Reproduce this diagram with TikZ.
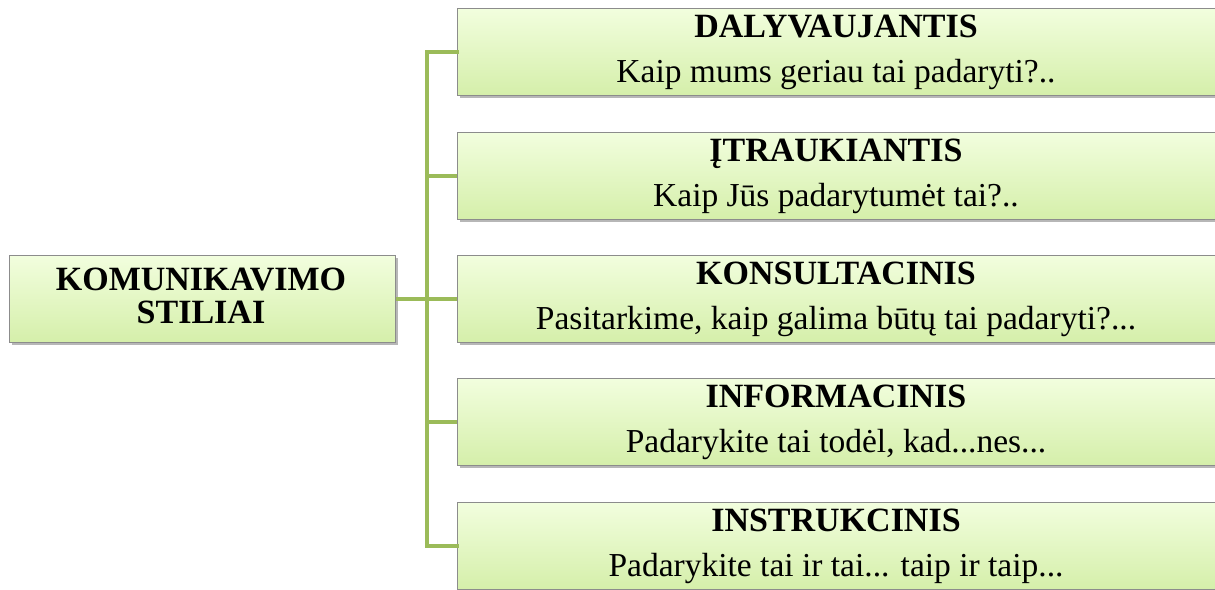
\documentclass[tikz,border=0pt]{standalone}
\usepackage{fontspec}
\setmainfont{Liberation Serif}
\usetikzlibrary{shadows}
\definecolor{linkgreen}{HTML}{9BBB59}
\definecolor{boxtop}{HTML}{F2FEDE}
\definecolor{boxbot}{HTML}{D5EFAA}
\definecolor{boxedge}{HTML}{8C8C8C}
\tikzset{
  x=1pt, y=-1pt,
  stylebox/.style={draw=boxedge, line width=0.8pt, top color=boxtop, bottom color=boxbot,
    rectangle, inner sep=0pt, anchor=north west,
    drop shadow={shadow xshift=2.5pt, shadow yshift=-3pt, opacity=0.4, fill=black!70}},
  link/.style={draw=linkgreen, line width=4pt},
  titletext/.style={font=\fontsize{34}{36}\selectfont\bfseries, anchor=base},
  subtext/.style={font=\fontsize{33.5}{36}\selectfont, anchor=base},
}
\begin{document}
\begin{tikzpicture}
\useasboundingbox (0,0) rectangle (1215,589);
% root box
\node[stylebox, minimum width=386pt, minimum height=87pt] (root) at (9,255) {};
\node[titletext] (rootA) at (201,290) {KOMUNIKAVIMO};
\node[titletext] (rootB) at (201,323) {STILIAI};
% branch boxes
\foreach \n/\y/\t/\s in {
  b1/8/DALYVAUJANTIS/{Kaip mums geriau tai padaryti?..},
  b2/132/ĮTRAUKIANTIS/{Kaip Jūs padarytumėt tai?..},
  b3/255/KONSULTACINIS/{Pasitarkime, kaip galima būtų tai padaryti?...},
  b4/378/INFORMACINIS/{Padarykite tai todėl, kad...nes...},
  b5/502/INSTRUKCINIS/{Padarykite tai ir tai... taip ir taip...}}{
  \node[stylebox, minimum width=758pt, minimum height=87pt] (\n) at (457,\y) {};
  \node[titletext] (\n t) at (836,\y+29) {\t};
  \node[subtext] (\n s) at (836,\y+74) {\s};
}
% connectors: a spine joining the root to every branch
\coordinate (spine) at (427,0);
\draw[link] (root.east) -- (root.east -| spine);
\draw[link, line cap=rect] (b1.west) -- (b1.west -| spine) -- (b5.west -| spine) -- (b5.west);
\foreach \n in {b2,b3,b4}{
  \draw[link] (\n.west -| spine) -- (\n.west);
}
\end{tikzpicture}
\end{document}
